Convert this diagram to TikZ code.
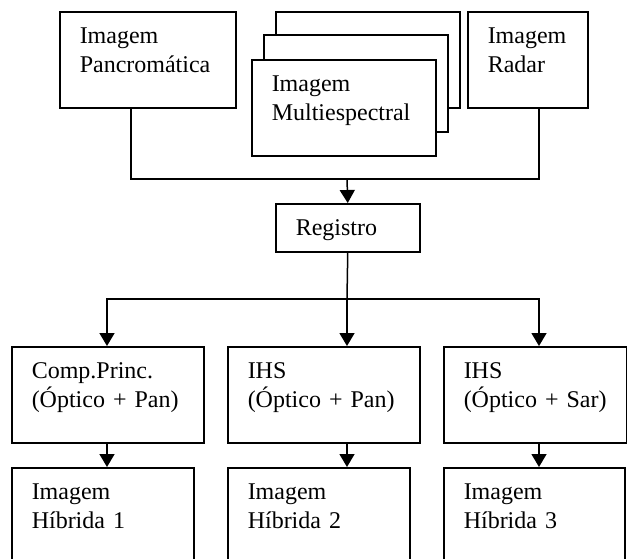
\documentclass[tikz,border=0pt]{standalone}
\usepackage{fontspec}
\setmainfont{Liberation Serif}
\usetikzlibrary{arrows.meta}
\begin{document}
\begin{tikzpicture}[x=1pt,y=-1pt,
  box/.style={draw,line width=1.5pt,fill=white,anchor=north west,rectangle,
    inner xsep=20pt,inner ysep=0pt,align=left,text height=32pt,
    font=\fontsize{24}{28.5}\selectfont},
  conn/.style={line width=1.5pt},
  arr/.style={line width=1.5pt,-{Triangle[width=15pt,length=13pt]}}]
\clip (0,0) rectangle (627,558);
% top row
\node[box,text width=136pt,text depth=64pt] (pan) at (59,11) {Imagem\\Pancromática};
\node[box,text width=144pt,text depth=64pt] (ms3) at (275,11) {};
\node[box,text width=144pt,text depth=65pt] (ms2) at (263,34) {};
\node[box,text width=144pt,text depth=64pt] (ms1) at (251,59) {Imagem\\Multiespectral};
\node[box,text width=80pt,text depth=64pt] (radar) at (467,11) {Imagem\\Radar};
% register
\node[box,text width=104pt,text depth=16pt] (reg) at (275,203) {Registro};
% middle row
\node[box,text width=152pt,text depth=64pt] (m1) at (11,346) {Comp.Princ.\\(Óptico~+~Pan)};
\node[box,text width=152pt,text depth=64pt] (m2) at (227,346) {IHS\\(Óptico~+~Pan)};
\node[box,text width=143pt,text depth=64pt] (m3) at (443,346) {IHS\\(Óptico~+~Sar)};
% bottom row
\node[box,text width=142pt,text depth=64pt] (h1) at (11,467) {Imagem\\Híbrida~1};
\node[box,text width=142pt,text depth=64pt] (h2) at (227,467) {Imagem\\Híbrida~2};
\node[box,text width=141pt,text depth=64pt] (h3) at (443,467) {Imagem\\Híbrida~3};
% connectors
\coordinate (j1) at (347,179);
\coordinate (j2) at (347,299);
\draw[conn] ([xshift=72pt]pan.south west) |- (j1) -| ([xshift=72pt]radar.south west);
\draw[arr] (j1) -- (reg.north);
\draw[conn] (reg.south) -- (j2);
\draw[arr] (j2) -| ([xshift=96pt]m1.north west);
\draw[arr] (j2) -- ([xshift=120pt]m2.north west);
\draw[arr] (j2) -| ([xshift=96pt]m3.north west);
\draw[arr] ([xshift=96pt]m1.south west) -- ([xshift=96pt]h1.north west);
\draw[arr] ([xshift=120pt]m2.south west) -- ([xshift=120pt]h2.north west);
\draw[arr] ([xshift=96pt]m3.south west) -- ([xshift=96pt]h3.north west);
\end{tikzpicture}
\end{document}
